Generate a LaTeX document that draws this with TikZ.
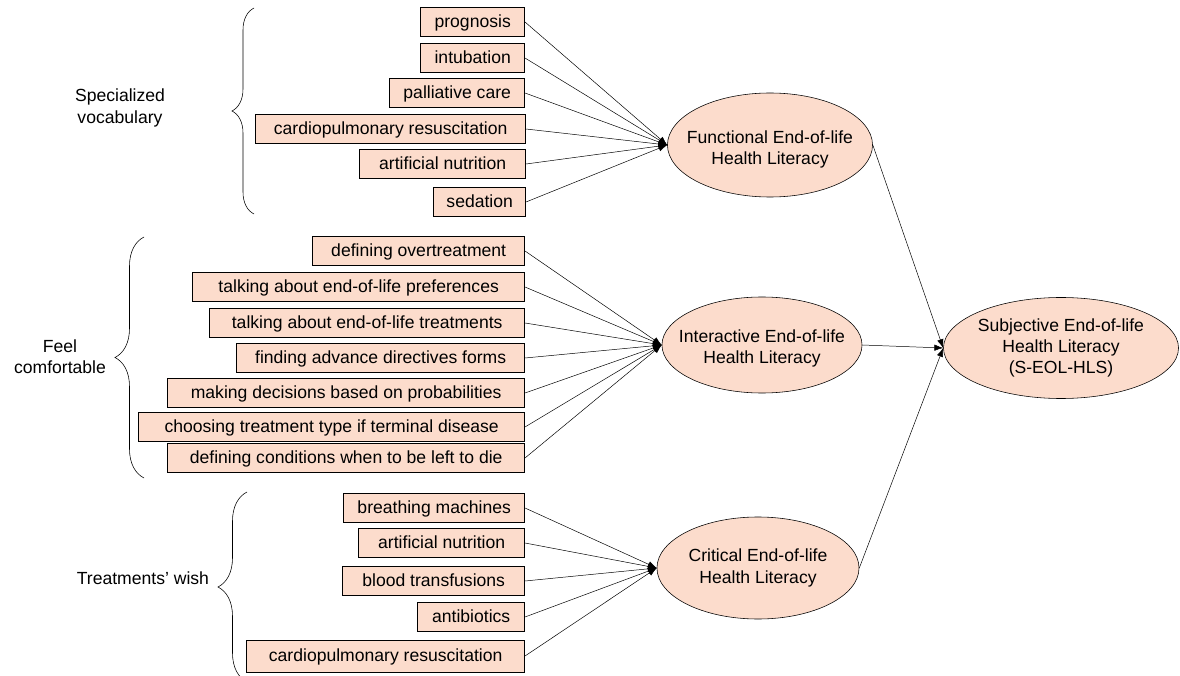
\documentclass[tikz,border=0pt]{standalone}
\usepackage{fontspec}
\setmainfont{Liberation Sans}
\usetikzlibrary{arrows.meta,shapes.geometric,decorations.pathreplacing}
\definecolor{peach}{RGB}{252,220,204}
\tikzset{
  item/.style={draw,fill=peach,anchor=east,minimum height=0.725cm,inner sep=0pt,
    text height=1em,text depth=0.2em},
  factor/.style={draw,ellipse,fill=peach,inner sep=0pt},
  link/.style={-{Latex[length=2.2mm,width=1.6mm]},line width=0.35pt},
  bracket/.style={decorate,decoration={brace,amplitude=#1}},
}
\begin{document}
\begin{tikzpicture}[x=0.025cm,y=-0.025cm,font=\fontsize{12.5pt}{15pt}\selectfont]
\useasboundingbox (0,0) rectangle (1180,676);

% specialized vocabulary
\node[item,minimum width=2.6cm] (progn) at (525,22) {prognosis};
\node[item,minimum width=2.6cm] (intub) at (525,58) {intubation};
\node[item,minimum width=3.375cm] (palli) at (525,93) {palliative care};
\node[item,minimum width=6.75cm] (cpra) at (526,129) {cardiopulmonary resuscitation};
\node[item,minimum width=4.15cm] (nutra) at (526,164) {artificial nutrition};
\node[item,minimum width=2.3cm] (sedat) at (526,202) {sedation};

% feel comfortable
\node[item,minimum width=5.3cm] (overtr) at (525,251) {defining overtreatment};
\node[item,minimum width=8.3cm] (prefs) at (525,287) {talking about end-of-life preferences};
\node[item,minimum width=7.875cm] (treat) at (525,323) {talking about end-of-life treatments};
\node[item,minimum width=7.2cm] (forms) at (525,358) {finding advance directives forms};
\node[item,minimum width=8.925cm] (probs) at (525,393) {making decisions based on probabilities};
\node[item,minimum width=9.65cm] (choose) at (525,427) {choosing treatment type if terminal disease};
\node[item,minimum width=8.925cm] (leftdie) at (525,458) {defining conditions when to be left to die};

% treatments' wish
\node[item,minimum width=4.525cm] (breath) at (525,508) {breathing machines};
\node[item,minimum width=4.15cm] (nutrb) at (525,543) {artificial nutrition};
\node[item,minimum width=4.55cm] (transf) at (525,581) {blood transfusions};
\node[item,minimum width=2.675cm] (antib) at (525,617) {antibiotics};
\node[item,minimum width=6.95cm,minimum height=0.8cm] (cprb) at (525,656) {cardiopulmonary resuscitation};

% latent factors
\node[factor,minimum width=5.125cm,minimum height=2.6cm,
  label={[align=center,yshift=-0.11cm]center:Functional End-of-life\\Health Literacy}] (func) at (770,145) {};
\node[factor,minimum width=5cm,minimum height=2.4cm,
  label={[align=center,yshift=-0.08cm]center:Interactive End-of-life\\Health Literacy}] (inter) at (762,345) {};
\node[factor,minimum width=5.05cm,minimum height=2.55cm,
  label={[align=center]center:Critical End-of-life\\Health Literacy}] (crit) at (758,568) {};
\node[factor,minimum width=5.875cm,minimum height=2.525cm,
  label={[align=center]center:Subjective End-of-life\\Health Literacy\\(S-EOL-HLS)}] (subj) at (1061,348) {};

\foreach \n in {progn,intub,palli,cpra,nutra,sedat}
  \draw[link] (\n.east) -- (func.west);
\foreach \n in {overtr,prefs,treat,forms,probs,choose,leftdie}
  \draw[link] (\n.east) -- (inter.west);
\foreach \n in {breath,nutrb,transf,antib,cprb}
  \draw[link] (\n.east) -- (crit.west);
\foreach \n in {func,inter,crit}
  \draw[link] (\n.east) -- (subj.west);

% braces and their labels
\draw[bracket=0.55cm] (254,214) -- (254,8);
\draw[bracket=0.725cm] (144,478) -- (144,237);
\draw[bracket=0.725cm] (247,682) -- (247,492);
\node[align=center] (voc) at (120,108) {Specialized\\vocabulary};
\node[align=center] (comf) at (60,357) {Feel\\comfortable};
\node[anchor=east] (wish) at (214,578) {Treatments’ wish};
\end{tikzpicture}
\end{document}
